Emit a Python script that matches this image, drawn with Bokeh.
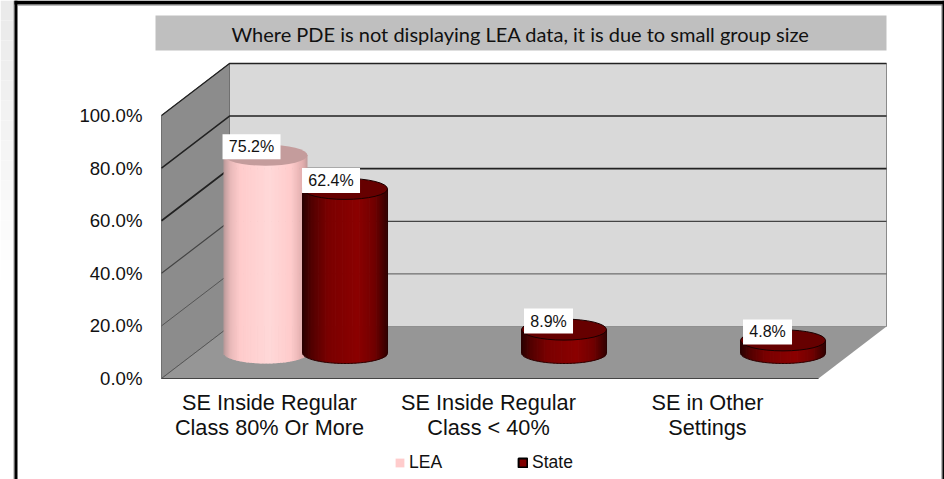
import numpy as np
from bokeh.plotting import figure
from bokeh.models import Range1d, FixedTicker, Legend, LegendItem, ColumnDataSource
from bokeh.core.properties import value
from bokeh.embed import file_html
from bokeh.resources import INLINE

categories = ["SE Inside Regular\nClass 80% Or More", "SE Inside Regular\nClass < 40%", "SE in Other\nSettings"]
series_names = ["LEA", "State"]
lea_values = [75.2, None, None]
state_values = [62.4, 8.9, 4.8]
y_ticks = [0, 20, 40, 60, 80, 100]
note = "Where PDE is not displaying LEA data, it is due to small group size"

W, H = 944, 479
PX_CAT = 219.0           # pixels per category
PX_PCT = 2.63            # pixels per percent
X0, Y0 = 161.0, 378.0    # pixel of category 0 / value 0
F_L, F_B = 148, 386      # plot frame left / bottom edges
X = lambda px: (px - X0) / PX_CAT
Y = lambda py: (Y0 - py) / PX_PCT
DX, DY = X0 + 68, Y0 - 52
DEPTH_X, DEPTH_Y = X(DX), Y(DY)
ABS = {"position": "absolute", "left": "0px", "top": "0px"}
FONT = "Liberation Sans"

# ---- backdrop figure: page decoration and legend, in page pixels
bg = figure(width=W, height=H, output_backend="svg", toolbar_location=None,
            x_range=Range1d(0, W), y_range=Range1d(H, 0),
            x_axis_location=None, y_axis_location=None,
            min_border=0, background_fill_color="white", border_fill_color="white", styles=ABS)
bg.outline_line_color = None
bg.grid.visible = False

def frame_box(l, r, t, b, color):
    bg.quad(left=[l], right=[r], top=[t], bottom=[b], fill_color=color, line_color=None)

for i in range(24):
    shade = int(min(255, 234 + i * 1.6))
    frame_box(0, 13, i * 20, (i + 1) * 20, (shade, shade, shade))
frame_box(13, 14, 0, H, "#999999")
frame_box(14, 17, 0, H, "#000000")
frame_box(14, W, 0, 4, "#000000")
frame_box(17, 942, 4, 5, "#777777")
frame_box(941, 942, 4, H, "#777777")
frame_box(942, W, 0, H, "#000000")

r1 = bg.quad(left=[-9], right=[-8], top=[-9], bottom=[-10], fill_color="#FFCCCC", line_color=None)
r2 = bg.quad(left=[-9], right=[-8], top=[-9], bottom=[-10], fill_color="#800000", line_color="#000000", line_width=2)
leg = Legend(items=[LegendItem(label=series_names[0], renderers=[r1]), LegendItem(label=series_names[1], renderers=[r2])],
             orientation="horizontal", location=(394, 6), padding=0, margin=0,
             spacing=75, label_standoff=4, glyph_width=11, glyph_height=11,
             border_line_color=None, background_fill_alpha=0, label_text_font=FONT,
             label_text_font_size="17.5px", label_text_color="#111111")
bg.add_layout(leg)

# ---- chart figure
p = figure(width=W, height=H, output_backend="svg", toolbar_location=None,
           x_range=Range1d(X(F_L), X(W)), y_range=Range1d(Y(F_B), Y(0)),
           frame_width=W - F_L, frame_height=F_B,
           min_border_left=F_L, min_border_right=0, min_border_top=0, min_border_bottom=H - F_B,
           background_fill_alpha=0, border_fill_alpha=0, styles=ABS)
p.outline_line_color = None
p.grid.visible = False

p.yaxis.ticker = FixedTicker(ticks=y_ticks)
p.yaxis.major_label_overrides = {t: f"{t:.1f}%" for t in y_ticks}
TICK_AT = [i + 0.5 - 1.5 / PX_CAT for i in range(len(categories))]
p.xaxis.ticker = FixedTicker(ticks=TICK_AT)
p.xaxis.major_label_overrides = {t: c for t, c in zip(TICK_AT, categories)}
for ax in (p.xaxis, p.yaxis):
    ax.axis_line_color = None
    ax.major_tick_line_color = None
    ax.minor_tick_line_color = None
    ax.major_label_text_font = FONT
    ax.major_label_text_color = "#111111"
p.yaxis.major_label_text_font_size = "18.6px"
p.xaxis.major_label_text_font_size = "21.7px"
p.xaxis.major_label_text_line_height = 1.0
p.yaxis.major_label_standoff = 0
p.xaxis.major_label_standoff = -3

# note banner
p.quad(left=[X(155)], right=[X(886)], top=[Y(15)], bottom=[Y(50)], fill_color="#BFBFBF", line_color=None)
p.text(x=[X(520)], y=[Y(33)], text=[note], text_font=value("Lato"), text_font_size="20px",
       text_color="#111111", text_align="center", text_baseline="middle")

# 3-D box: back wall, side wall, floor
nc = len(categories)
p.quad(left=[DEPTH_X], right=[nc + DEPTH_X], bottom=[DEPTH_Y], top=[100 + DEPTH_Y],
       fill_color="#D9D9D9", line_color="#8A8A8A", line_width=1)
p.patch([0, 0, DEPTH_X, DEPTH_X], [0, 100, 100 + DEPTH_Y, DEPTH_Y], fill_color="#8C8C8C",
        line_color="#707070", line_width=1)
p.patch([0, DEPTH_X, nc + DEPTH_X, nc], [0, DEPTH_Y, DEPTH_Y, 0], fill_color="#969696",
        line_color=None)
p.line([0, nc], [0, 0], line_color="#444444", line_width=1)
grid_w = {0: 1, 20: 1, 40: 1.2, 60: 1.7, 80: 1.5, 100: 1.3}
grid_c = {0: "#666666", 20: "#555555", 40: "#444444", 60: "#222222", 80: "#222222", 100: "#222222"}
for t in y_ticks:
    if t == 0:
        p.line([0, DEPTH_X], [0, DEPTH_Y], line_color="#555555", line_width=1)
    else:
        p.line([0, DEPTH_X, nc + DEPTH_X], [t, t + DEPTH_Y, t + DEPTH_Y],
               line_color=grid_c[t], line_width=grid_w[t])

# cylinders
BASE = Y(352.5)
RY = 10.5 / PX_PCT
W_LEA, W_STATE = 84 / PX_CAT, 85 / PX_CAT
OFF_LEA, OFF_STATE = 0.475, 0.838

def hex2rgb(c):
    return np.array([int(c[i:i + 2], 16) for i in (1, 3, 5)], float)

def ramp(stops, t):
    ts = [s[0] for s in stops]
    cs = np.array([hex2rgb(s[1]) for s in stops])
    return "#%02x%02x%02x" % tuple(int(round(np.interp(t, ts, cs[:, k]))) for k in range(3))

LEA_STOPS = [(0, "#B89898"), (.08, "#E8B8B8"), (.2, "#FFCCCC"), (.55, "#FFD8D8"), (.8, "#FFCCCC"), (.95, "#E0ACAC"), (1, "#C09A9A")]
STATE_STOPS = [(0, "#2A0000"), (.1, "#500000"), (.3, "#7A0000"), (.65, "#8B0000"), (.85, "#700000"), (1, "#300000")]

def cylinder(cx, width, val, stops, top_color, top_line, edge):
    n = 60
    edges = np.linspace(-1, 1, n + 1)
    mids = (edges[:-1] + edges[1:]) / 2
    left = cx + edges[:-1] * width / 2
    right = cx + np.minimum(edges[1:] + 1.0 / n, 1) * width / 2
    bottom = BASE - RY * np.sqrt(1 - mids ** 2)
    colors = [ramp(stops, (m + 1) / 2) for m in mids]
    p.quad(left=left, right=right, bottom=bottom, top=[BASE + val] * n, fill_color=colors, line_color=None)
    if edge:
        th = np.linspace(-1, 1, 61)
        p.line(cx + th * width / 2, BASE - RY * np.sqrt(1 - th ** 2), line_color=edge, line_width=1)
        p.line([cx - width / 2] * 2, [BASE, BASE + val], line_color=edge, line_width=1)
        p.line([cx + width / 2] * 2, [BASE, BASE + val], line_color=edge, line_width=1)
    p.ellipse(x=[cx], y=[BASE + val], width=[width], height=[2 * RY], fill_color=top_color,
              line_color=top_line, line_width=1)

for i, (a, b) in enumerate(zip(lea_values, state_values)):
    if a is not None:
        cylinder(i + OFF_LEA, W_LEA, a, LEA_STOPS, "#C49C9C", None, None)
    if b is not None:
        cylinder(i + OFF_STATE, W_STATE, b, STATE_STOPS, "#660000", "#1A0000", "#2A0000")

# value labels
lx, ly, lt, lw = [], [], [], []
for i, (a, b) in enumerate(zip(lea_values, state_values)):
    if a is not None:
        lx.append(i + OFF_LEA); ly.append(BASE + a); lt.append(f"{a:.1f}%"); lw.append(58)
    if b is not None:
        lx.append(i + OFF_STATE); ly.append(BASE + b); lt.append(f"{b:.1f}%"); lw.append(58 if b >= 10 else 49)
dxs = [-14 if w == 58 else -15.5 for w in lw]
src = ColumnDataSource(dict(x=[x + d / PX_CAT for x, d in zip(lx, dxs)], y=[y + 8.5 / PX_PCT for y in ly], t=lt, w=lw))
p.rect("x", "y", width="w", height=25, width_units="screen", height_units="screen", source=src,
       fill_color="white", line_color=None)
p.text("x", "y", text="t", source=src, text_font=value(FONT), text_font_size="16px", text_color="#111111",
       text_align="center", text_baseline="middle")

open("out.html", "w").write(file_html([bg, p], INLINE))
